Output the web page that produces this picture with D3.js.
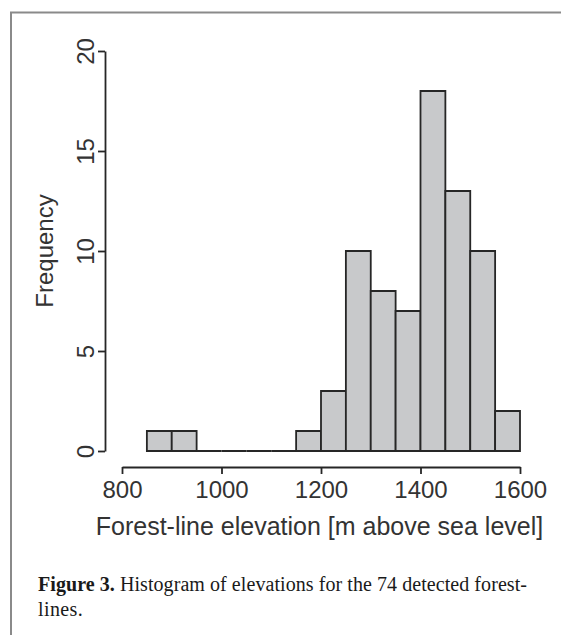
<!DOCTYPE html>
<html>
<head>
<meta charset="utf-8">
<script src="https://cdn.jsdelivr.net/npm/d3@7"></script>
<style>
  html, body { margin: 0; padding: 0; background: #ffffff; }
  svg { display: block; }
</style>
</head>
<body>
<script>
// ---- data ----
const binStarts = [800, 850, 900, 950, 1000, 1050, 1100, 1150, 1200, 1250, 1300, 1350, 1400, 1450, 1500, 1550];
const binWidth = 50;
const counts = [0, 1, 1, 0, 0, 0, 0, 1, 3, 10, 8, 7, 18, 13, 10, 2];
const xTicks = [800, 1000, 1200, 1400, 1600];
const yTicks = [0, 5, 10, 15, 20];
const xTitle = "Forest-line elevation [m above sea level]";
const yTitle = "Frequency";
const captionBold = "Figure 3.";
const captionLine1 = " Histogram of elevations for the 74 detected forest-";
const captionLine2 = "lines.";

const W = 561, H = 635;
const svg = d3.select("body").append("svg").attr("width", W).attr("height", H);

// page frame
svg.append("path")
  .attr("d", `M11,${H} L11,12.5 L${W},12.5`)
  .attr("fill", "none").attr("stroke", "#8a8a8a").attr("stroke-width", 2);

const x = d3.scaleLinear().domain([800, 1600]).range([122, 520]);
const y = d3.scaleLinear().domain([0, 20]).range([451, 51]);

const font = "'Liberation Sans', Arial, Helvetica, sans-serif";
const ink = "#262626";

// bars (from first non-empty bin; empty bins drawn as flat outlines on the baseline)
const firstIdx = counts.findIndex(c => c > 0);
const bins = binStarts.map((s, i) => ({ x0: s, x1: s + binWidth, n: counts[i] })).slice(firstIdx);
svg.append("g").selectAll("path").data(bins).join("path")
  .attr("d", d => `M${x(d.x0)},${y(0)} L${x(d.x0)},${y(d.n)} L${x(d.x1)},${y(d.n)} L${x(d.x1)},${y(0)} Z`)
  .attr("fill", "#c8c9cb")
  .attr("stroke", ink)
  .attr("stroke-width", 1.8)
  .attr("stroke-linejoin", "miter");

// x axis
const xAxis = svg.append("g").attr("transform", "translate(0,467)")
  .call(d3.axisBottom(x).tickValues(xTicks).tickFormat(d3.format("d")).tickSize(7).tickSizeOuter(0).tickPadding(4));
xAxis.select(".domain").attr("stroke", ink).attr("stroke-width", 1.8);
xAxis.selectAll(".tick line").attr("stroke", ink).attr("stroke-width", 1.8);
xAxis.selectAll(".tick text").attr("font-family", font).attr("font-size", 24).attr("fill", "#333").attr("dy", "0.83em");

// y axis
const yAxis = svg.append("g").attr("transform", "translate(105,0)")
  .call(d3.axisLeft(y).tickValues(yTicks).tickSize(7).tickSizeOuter(0));
yAxis.select(".domain").attr("stroke", ink).attr("stroke-width", 1.8);
yAxis.selectAll(".tick line").attr("stroke", ink).attr("stroke-width", 1.8);
yAxis.selectAll(".tick text").remove();
yAxis.selectAll(".tick").append("text")
  .attr("transform", "translate(-11,0) rotate(-90)")
  .attr("text-anchor", "middle")
  .attr("font-family", font).attr("font-size", 24).attr("fill", "#333")
  .text(d => d);

// axis titles
svg.append("text")
  .attr("x", 319.5).attr("y", 535)
  .attr("text-anchor", "middle")
  .attr("font-family", font).attr("font-size", 25).attr("fill", "#333")
  .text(xTitle);

svg.append("text")
  .attr("transform", `translate(53,${(y(0) + y(20)) / 2}) rotate(-90)`)
  .attr("text-anchor", "middle")
  .attr("font-family", font).attr("font-size", 24).attr("fill", "#333")
  .text(yTitle);

// caption
const serif = "'Liberation Serif', 'Times New Roman', serif";
const cap = svg.append("text").attr("x", 38).attr("y", 591)
  .attr("font-family", serif).attr("font-size", 20).attr("fill", "#1a1a1a")
  .attr("textLength", 489).attr("lengthAdjust", "spacing");
cap.append("tspan").attr("font-weight", "bold").text(captionBold);
cap.append("tspan").text(captionLine1);
svg.append("text").attr("x", 38).attr("y", 616)
  .attr("font-family", serif).attr("font-size", 20).attr("fill", "#1a1a1a")
  .attr("letter-spacing", 0.4)
  .text(captionLine2);
</script>
</body>
</html>
